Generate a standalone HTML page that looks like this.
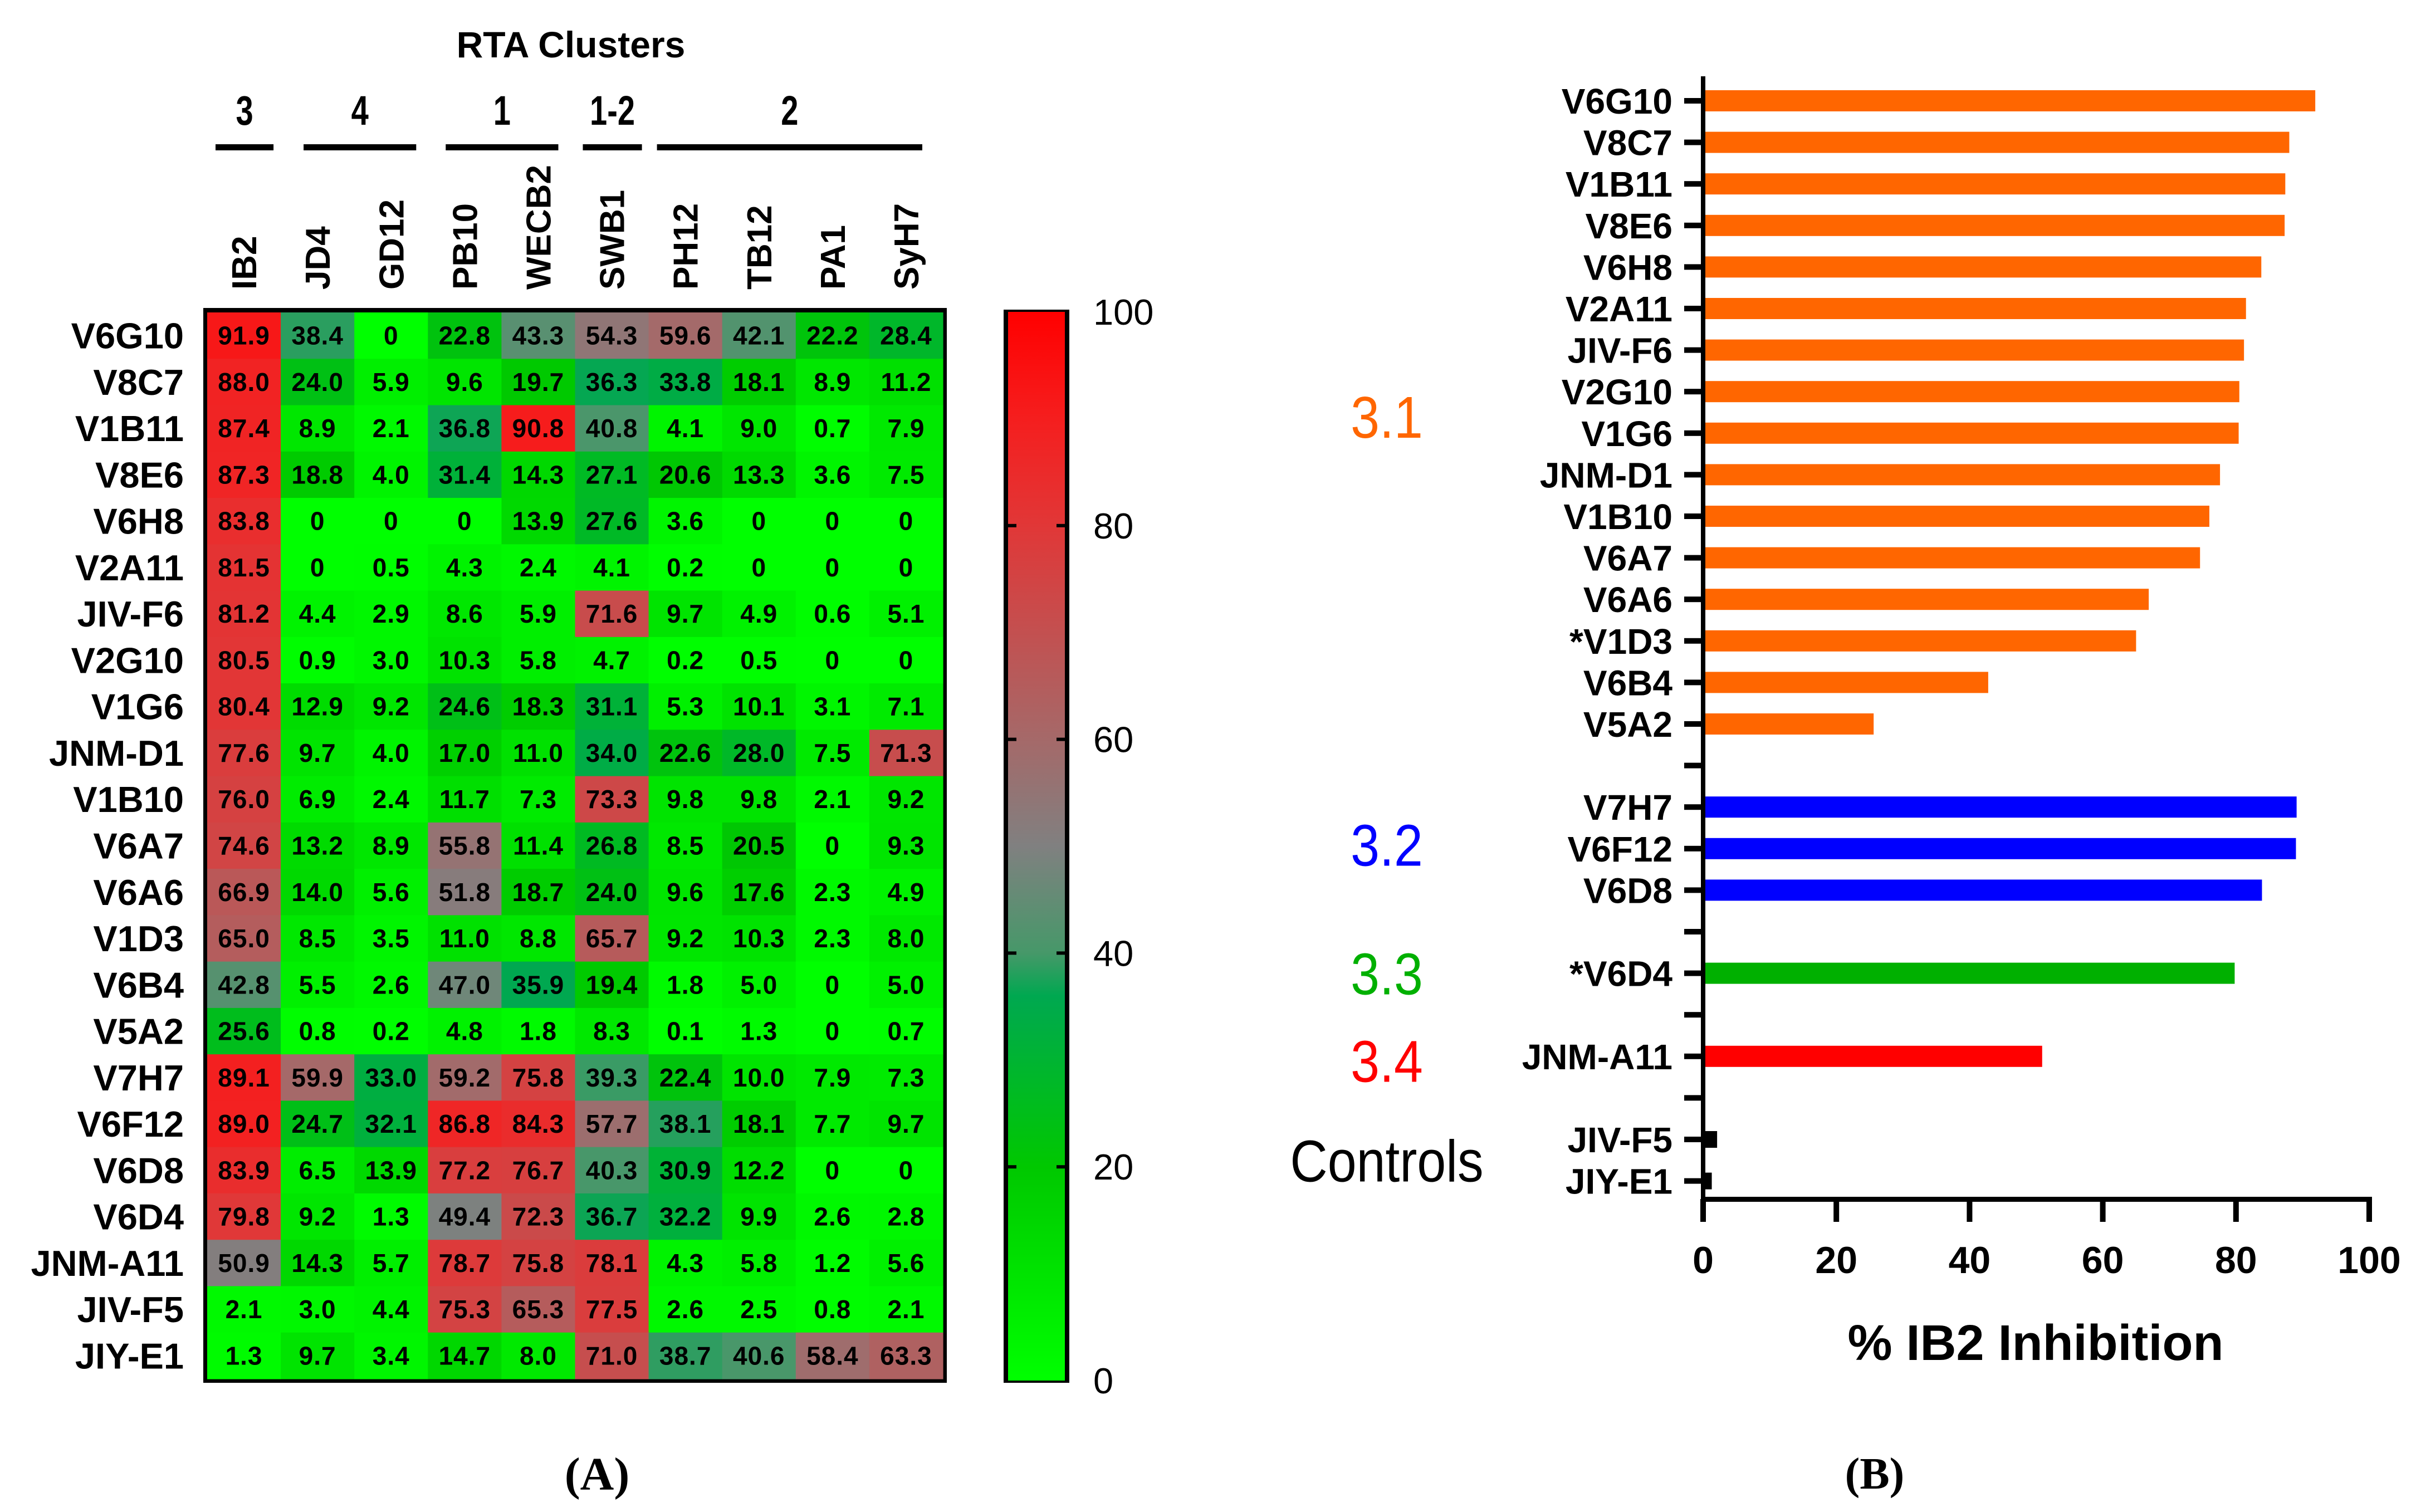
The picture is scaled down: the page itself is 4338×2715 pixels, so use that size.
<!DOCTYPE html>
<html><head><meta charset="utf-8"><style>
html,body{margin:0;padding:0;background:#fff;}
svg{display:block;}
text{font-family:"Liberation Sans",Arial,sans-serif;}
</style></head><body>
<svg id="fig" width="4338" height="2715" viewBox="0 0 4338 2715" xmlns="http://www.w3.org/2000/svg">
<defs>
<linearGradient id="cbgrad" x1="0" y1="1" x2="0" y2="0">
<stop offset="0" stop-color="rgb(0,255,0)"/>
<stop offset="0.2" stop-color="rgb(0,200,0)"/>
<stop offset="0.36" stop-color="rgb(0,168,80)"/>
<stop offset="0.40" stop-color="rgb(70,152,105)"/>
<stop offset="0.5" stop-color="rgb(128,128,128)"/>
<stop offset="0.6" stop-color="rgb(165,105,105)"/>
<stop offset="0.8" stop-color="rgb(225,55,55)"/>
<stop offset="0.9" stop-color="rgb(245,30,30)"/>
<stop offset="1" stop-color="rgb(255,0,0)"/>
</linearGradient>
</defs>
<g id="heat"></g>
<g id="cbar"></g>
<g id="bars"></g>
<text x="1072" y="2675" font-weight="bold" font-size="84" text-anchor="middle" style="font-family:'Liberation Serif',serif">(A)</text>
<text x="3366" y="2673" font-weight="bold" font-size="80" text-anchor="middle" style="font-family:'Liberation Serif',serif">(B)</text>
</svg>
<script>
const rowNames = ["V6G10","V8C7","V1B11","V8E6","V6H8","V2A11","JIV-F6","V2G10","V1G6","JNM-D1","V1B10","V6A7","V6A6","V1D3","V6B4","V5A2","V7H7","V6F12","V6D8","V6D4","JNM-A11","JIV-F5","JIY-E1"];
const colNames = ["IB2","JD4","GD12","PB10","WECB2","SWB1","PH12","TB12","PA1","SyH7"];
const heatValues = [
[91.9,38.4,0,22.8,43.3,54.3,59.6,42.1,22.2,28.4],
[88.0,24.0,5.9,9.6,19.7,36.3,33.8,18.1,8.9,11.2],
[87.4,8.9,2.1,36.8,90.8,40.8,4.1,9.0,0.7,7.9],
[87.3,18.8,4.0,31.4,14.3,27.1,20.6,13.3,3.6,7.5],
[83.8,0,0,0,13.9,27.6,3.6,0,0,0],
[81.5,0,0.5,4.3,2.4,4.1,0.2,0,0,0],
[81.2,4.4,2.9,8.6,5.9,71.6,9.7,4.9,0.6,5.1],
[80.5,0.9,3.0,10.3,5.8,4.7,0.2,0.5,0,0],
[80.4,12.9,9.2,24.6,18.3,31.1,5.3,10.1,3.1,7.1],
[77.6,9.7,4.0,17.0,11.0,34.0,22.6,28.0,7.5,71.3],
[76.0,6.9,2.4,11.7,7.3,73.3,9.8,9.8,2.1,9.2],
[74.6,13.2,8.9,55.8,11.4,26.8,8.5,20.5,0,9.3],
[66.9,14.0,5.6,51.8,18.7,24.0,9.6,17.6,2.3,4.9],
[65.0,8.5,3.5,11.0,8.8,65.7,9.2,10.3,2.3,8.0],
[42.8,5.5,2.6,47.0,35.9,19.4,1.8,5.0,0,5.0],
[25.6,0.8,0.2,4.8,1.8,8.3,0.1,1.3,0,0.7],
[89.1,59.9,33.0,59.2,75.8,39.3,22.4,10.0,7.9,7.3],
[89.0,24.7,32.1,86.8,84.3,57.7,38.1,18.1,7.7,9.7],
[83.9,6.5,13.9,77.2,76.7,40.3,30.9,12.2,0,0],
[79.8,9.2,1.3,49.4,72.3,36.7,32.2,9.9,2.6,2.8],
[50.9,14.3,5.7,78.7,75.8,78.1,4.3,5.8,1.2,5.6],
[2.1,3.0,4.4,75.3,65.3,77.5,2.6,2.5,0.8,2.1],
[1.3,9.7,3.4,14.7,8.0,71.0,38.7,40.6,58.4,63.3]
];
const clusterLabels = ["3","4","1","1-2","2"];
const clusterStart = [0,1,3,5,6];
const clusterEnd = [0,2,4,5,9];
const cbTicks = [0,20,40,60,80,100];

const barNames = ["V6G10","V8C7","V1B11","V8E6","V6H8","V2A11","JIV-F6","V2G10","V1G6","JNM-D1","V1B10","V6A7","V6A6","*V1D3","V6B4","V5A2","","V7H7","V6F12","V6D8","","*V6D4","","JNM-A11","","JIV-F5","JIY-E1"];
const barValues = [91.9,88.0,87.4,87.3,83.8,81.5,81.2,80.5,80.4,77.6,76.0,74.6,66.9,65.0,42.8,25.6,null,89.1,89.0,83.9,null,79.8,null,50.9,null,2.1,1.3];
const barGroups = ["3.1","3.1","3.1","3.1","3.1","3.1","3.1","3.1","3.1","3.1","3.1","3.1","3.1","3.1","3.1","3.1","","3.2","3.2","3.2","","3.3","","3.4","","ctrl","ctrl"];
const xTicks = [0,20,40,60,80,100];

const NS="http://www.w3.org/2000/svg";
function el(tag, attrs, parent, txt){
  const e=document.createElementNS(NS,tag);
  for(const k in attrs) e.setAttribute(k,attrs[k]);
  if(txt!==undefined) e.textContent=txt;
  parent.appendChild(e); return e;
}
const stops=[[0,[0,255,0]],[20,[0,200,0]],[36,[0,168,80]],[40,[70,152,105]],[50,[128,128,128]],[60,[165,105,105]],[80,[225,55,55]],[90,[245,30,30]],[100,[255,0,0]]];
function colorOf(v){
  for(let i=0;i<stops.length-1;i++){
    const a=stops[i],b=stops[i+1];
    if(v<=b[0]){const t=(v-a[0])/(b[0]-a[0]);
      const c=a[1].map((x,j)=>Math.round(x+(b[1][j]-x)*t));
      return "rgb("+c.join(",")+")";}
  }
  return "rgb(255,0,0)";
}
function fmt(v){return v===0?"0":v.toFixed(1);}

// ---------- Heatmap ----------
const heat=document.getElementById('heat');
const gx0=372, gy0=561, cw=132.1, ch=83.26;
const cx=c=>gx0+c*cw, cy=r=>gy0+r*ch;
let t=el('text',{x:1025,y:103,'font-size':66,'font-weight':'bold','text-anchor':'middle'},heat,"RTA Clusters");


const bracketInsetL=[15,41,32,14,15];
const bracketInsetR=[13,21,30,12,37];
clusterLabels.forEach((lab,i)=>{
  const x1=cx(clusterStart[i])+bracketInsetL[i], x2=cx(clusterEnd[i]+1)-bracketInsetR[i];
  const g=el('g',{transform:`translate(${(x1+x2)/2},224) scale(0.85,1.12)`},heat);
  const n=el('text',{x:0,y:0,'font-size':66,'font-weight':'bold','text-anchor':'middle'},g,lab);
  
  
  const l=el('rect',{x:x1,y:259,width:x2-x1,height:11,fill:'#000'},heat);
  
  
});
colNames.forEach((c,j)=>{
  const x=cx(j)+cw/2, y=520;
  const g=el('g',{transform:`translate(${x+22},${y}) rotate(-90)`},heat);
  const tx=el('text',{x:0,y:0,'font-size':62,'font-weight':'bold'},g,c);
  
  
});
el('rect',{x:365,y:553,width:1335,height:1930,fill:'#000'},heat);
heatValues.forEach((row,i)=>{
  const rl=el('text',{x:330,y:cy(i)+ch/2+23,'font-size':65,'font-weight':'bold','text-anchor':'end'},heat,rowNames[i]);
  
  
  row.forEach((v,j)=>{
    const r=el('rect',{x:cx(j),y:cy(i),width:cw+0.6,height:ch+0.6,fill:colorOf(v)},heat);
    
    
    const tv=el('text',{x:cx(j)+cw/2,y:cy(i)+ch/2+16,'font-size':46,'font-weight':'bold','text-anchor':'middle','letter-spacing':'1'},heat,fmt(v));
    
    
  });
});

// ---------- Color bar ----------
const cb=document.getElementById('cbar');
const cbTop=556, cbBot=2483, cbL=1802, cbR=1920;
el('rect',{x:cbL,y:cbTop,width:cbR-cbL,height:cbBot-cbTop,fill:'#000'},cb);
const grad=el('rect',{x:cbL+8,y:cbTop+4,width:cbR-cbL-16,height:cbBot-cbTop-8,fill:'url(#cbgrad)'},cb);


const cbY=v=>cbBot-4-(v/100)*(cbBot-cbTop-8);
cbTicks.forEach(v=>{
  const y=cbY(v);
  if(v>0&&v<100){
    el('rect',{x:cbL+8,y:y-3,width:15,height:6,fill:'#000'},cb);
    el('rect',{x:cbR-23,y:y-3,width:15,height:6,fill:'#000'},cb);
  }
  const lt=el('text',{x:1963,y:y+23,'font-size':65},cb,String(v));
  
  
});

// ---------- Bar chart ----------
const bc=document.getElementById('bars');
const ax0=3058, ax100=4254, slot0=181, slotH=74.6, axisY=2153, axisTop=137;
const xs=v=>ax0+(v/100)*(ax100-ax0);
const ys=i=>slot0+i*slotH;
const groupColor={"3.1":"#ff6600","3.2":"#0000ff","3.3":"#00b000","3.4":"#ff0000","ctrl":"#000000"};
barValues.forEach((v,i)=>{
  const y=ys(i);
  el('rect',{x:ax0-34,y:y-5,width:34,height:10,fill:'#000'},bc);
  if(barNames[i]){
    const lb=el('text',{x:3003,y:y+23,'font-size':64,'font-weight':'bold','text-anchor':'end'},bc,barNames[i]);
    
    
  }
  if(v!==null){
    const h=barGroups[i]==='ctrl'?30:38;
    const b=el('rect',{x:ax0,y:y-h/2,width:xs(v)-ax0,height:h,fill:groupColor[barGroups[i]]},bc);
    
    
  }
});
const yax=el('rect',{x:ax0-4,y:axisTop,width:8,height:axisY-axisTop+4,fill:'#000'},bc);


const xax=el('rect',{x:ax0-4,y:axisY-4,width:ax100-ax0+9,height:9,fill:'#000'},bc);


xTicks.forEach(v=>{
  const x=xs(v);
  el('rect',{x:x-5,y:axisY,width:10,height:41,fill:'#000'},bc);
  const tl=el('text',{x:x,y:2286,'font-size':68,'font-weight':'bold','text-anchor':'middle'},bc,String(v));
  
  
});
const xt=el('text',{x:3655,y:2442,'font-size':90,'font-weight':'bold','text-anchor':'middle'},bc,"% IB2 Inhibition");


const groupLabels=[["3.1",ys(7.6),"#ff6600"],["3.2",ys(17.9),"#0000ff"],["3.3",ys(21),"#00b000"],["3.4",ys(23.1),"#ff0000"],["Controls",ys(25.5),"#000"]];
groupLabels.forEach(g=>{
  const gt=el('text',{x:2490,y:g[1]+38,'font-size':106,'text-anchor':'middle',fill:g[2],transform:`translate(${2490*0.12},0) scale(0.88,1)`},bc,g[0]);
  
  
});
</script>
</body></html>
